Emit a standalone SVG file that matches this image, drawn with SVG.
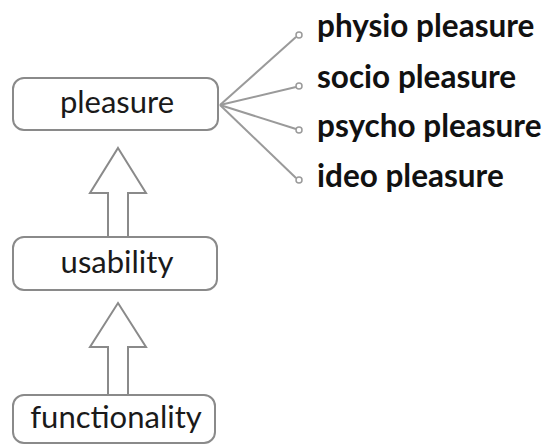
<svg xmlns="http://www.w3.org/2000/svg" width="544" height="445" viewBox="0 0 544 445">
  <style>
    .box { fill: #ffffff; stroke: #8a8a8a; stroke-width: 2; }
    .lbl { font-family: Lato, "Open Sans", sans-serif; font-size: 31px; fill: #1a1a1a; text-anchor: middle; }
    .leaf { font-family: Lato, "Open Sans", sans-serif; font-size: 31.5px; font-weight: bold; fill: #111111; }
    .up { fill: #ffffff; stroke: #8a8a8a; stroke-width: 2; stroke-linejoin: miter; }
    .branch { stroke: #9a9a9a; stroke-width: 2; fill: none; }
    .dot { fill: #ffffff; stroke: #9a9a9a; stroke-width: 1.5; }
  </style>
  <rect width="544" height="445" fill="#ffffff"/>

  <g id="connectors">
    <!-- hollow upward arrows between stacked levels -->
    <path class="up" d="M118,148 L146,193 L128,193 L128,237 L108,237 L108,193 L90,193 Z"/>
    <path class="up" d="M118,303 L146,347 L128,347 L128,395 L108,395 L108,347 L90,347 Z"/>
    <!-- fan-out branches from pleasure -->
    <line class="branch" x1="220" y1="105" x2="296" y2="37"/>
    <line class="branch" x1="220" y1="105" x2="296" y2="87"/>
    <line class="branch" x1="220" y1="105" x2="296" y2="129"/>
    <line class="branch" x1="220" y1="105" x2="296" y2="178"/>
    <circle class="dot" cx="299" cy="35" r="3"/>
    <circle class="dot" cx="299" cy="86" r="3"/>
    <circle class="dot" cx="299" cy="130" r="3"/>
    <circle class="dot" cx="299" cy="180" r="3"/>
  </g>

  <g id="node-pleasure">
    <rect class="box" x="13" y="78" width="205" height="52" rx="11"/>
    <text class="lbl" x="117" y="113">pleasure</text>
  </g>
  <g id="node-usability">
    <rect class="box" x="13" y="237" width="204" height="53" rx="11"/>
    <text class="lbl" x="117" y="273">usability</text>
  </g>
  <g id="node-functionality">
    <rect class="box" x="13" y="395" width="202" height="48" rx="11"/>
    <text class="lbl" x="116" y="428">functionality</text>
  </g>

  <g id="node-physio">
    <text class="leaf" x="317" y="37">physio pleasure</text>
  </g>
  <g id="node-socio">
    <text class="leaf" x="317" y="88">socio pleasure</text>
  </g>
  <g id="node-psycho">
    <text class="leaf" x="317" y="137">psycho pleasure</text>
  </g>
  <g id="node-ideo">
    <text class="leaf" x="317" y="187">ideo pleasure</text>
  </g>
</svg>
